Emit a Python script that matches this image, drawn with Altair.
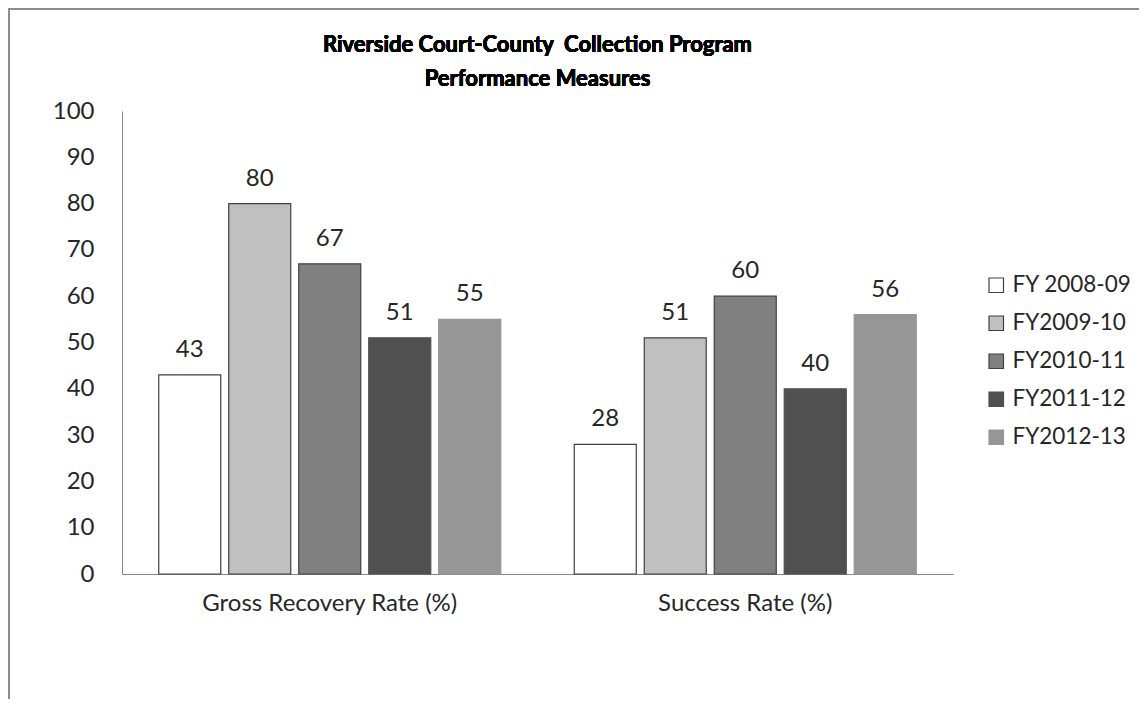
import altair as alt
import pandas as pd

categories = ["Gross Recovery Rate (%)", "Success Rate (%)"]
series = ["FY 2008-09", "FY2009-10", "FY2010-11", "FY2011-12", "FY2012-13"]
gross_recovery = [43, 80, 67, 51, 55]
success_rate = [28, 51, 60, 40, 56]
fills = ["#FFFFFF", "#C0C0C0", "#808080", "#505050", "#969696"]
strokes = ["#404040", "#404040", "#404040", "#505050", "#969696"]
title_text = "Riverside Court-County\u00a0 Collection Program\nPerformance Measures"

rows = []
for s, g, r in zip(series, gross_recovery, success_rate):
    rows.append({"category": categories[0], "series": s, "value": g})
    rows.append({"category": categories[1], "series": s, "value": r})
df = pd.DataFrame(rows)

FONT = "Lato"
W, H = 831, 463
FS = 24

x = alt.X("category:N", sort=categories, title=None,
          scale=alt.Scale(paddingInner=0, paddingOuter=0),
          axis=alt.Axis(labelAngle=0, ticks=False, domainColor="#868686",
                        labelFontSize=FS, labelColor="#262626", labelPadding=17,
                        labelFont=FONT, labelLimit=500))
xo = alt.XOffset("series:N", sort=series,
                 scale=alt.Scale(paddingInner=0.114, paddingOuter=0.525))
y = alt.Y("value:Q", title=None,
          scale=alt.Scale(domain=[0, 100]),
          axis=alt.Axis(values=list(range(0, 101, 10)), grid=False, ticks=False,
                        domainColor="#868686", labelFontSize=FS,
                        labelColor="#262626", labelPadding=28, labelFont=FONT))

bars = alt.Chart(df).mark_bar(strokeWidth=1.2).encode(
    x=x, xOffset=xo, y=y,
    fill=alt.Fill("series:N", sort=series,
                  scale=alt.Scale(domain=series, range=fills),
                  legend=alt.Legend(title=None, orient="none", legendX=863, legendY=163,
                                    symbolType="square", symbolSize=210,
                                    symbolStrokeWidth=1.2, labelFontSize=22.5,
                                    labelFont=FONT, labelColor="#262626",
                                    rowPadding=15, labelOffset=5, labelLimit=300)),
    stroke=alt.Stroke("series:N", sort=series,
                      scale=alt.Scale(domain=series, range=strokes),
                      legend=None),
)

labels = alt.Chart(df).mark_text(baseline="alphabetic", dy=-18, fontSize=FS,
                                 font=FONT, color="#262626").encode(
    x=x, xOffset=xo, y=y, text=alt.Text("value:Q"))

title = alt.Chart(df).mark_text(lineBreak="\n", fontSize=22, fontWeight="bold",
                                font=FONT, color="#000000", align="center",
                                baseline="middle", lineHeight=34).encode(
    x=alt.value(W / 2), y=alt.value(-66), text=alt.value(title_text))

left_frame = alt.Chart(df).mark_rule(color="#8C8C8C", strokeWidth=2).encode(
    x=alt.value(-113), y=alt.value(-103), y2=alt.value(H + 125))
top_frame = alt.Chart(df).mark_rule(color="#8C8C8C", strokeWidth=2).encode(
    y=alt.value(-102), x=alt.value(-114), x2=alt.value(1017))

chart = alt.layer(bars, labels, title, left_frame, top_frame).properties(
    width=W, height=H,
    background="white",
    autosize=alt.AutoSizeParams(type="none"),
    padding={"left": 114, "top": 103, "right": 186, "bottom": 125},
).configure_view(stroke="transparent", strokeWidth=0)

chart.save("out.html", embed_options={"renderer": "svg", "actions": False})
